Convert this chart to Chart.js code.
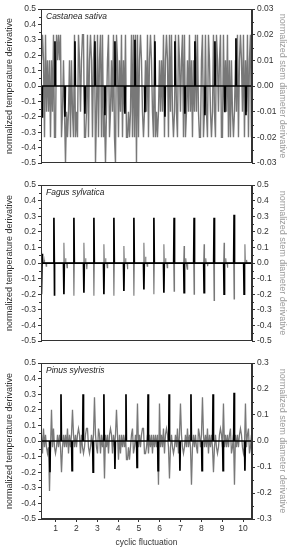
<!DOCTYPE html>
<html>
<head>
<meta charset="utf-8">
<script src="https://cdn.jsdelivr.net/npm/chart.js@4.4.2/dist/chart.umd.min.js"></script>
<style>
  html, body { margin: 0; padding: 0; background: #fff; }
  body { width: 292px; height: 550px; position: relative; overflow: hidden; }
  canvas { position: absolute; left: 0; }
</style>
</head>
<body>
<canvas id="panel-castanea" width="292" height="178" style="top:0px"></canvas>
<canvas id="panel-fagus" width="292" height="177" style="top:178px"></canvas>
<canvas id="panel-pinus" width="292" height="195" style="top:355px"></canvas>
<script>
// shared x axis (cyclic fluctuation)
const xMin = 0.3;
const xMax = 10.43;
const xTicks = [1, 2, 3, 4, 5, 6, 7, 8, 9, 10];
const tempTicks = [-0.5, -0.4, -0.3, -0.2, -0.1, 0, 0.1, 0.2, 0.3, 0.4, 0.5];
const castaneaStemTicks = [-0.03, -0.02, -0.01, 0, 0.01, 0.02, 0.03];
const fagusStemTicks = [-0.5, -0.4, -0.3, -0.2, -0.1, 0, 0.1, 0.2, 0.3, 0.4, 0.5];
const pinusStemTicks = [-0.3, -0.2, -0.1, 0, 0.1, 0.2, 0.3];

// temperature derivative pulses (black), x position + value
const castaneaTempX = [0.35, 0.97, 1.45, 1.93, 2.41, 2.89, 3.37, 3.85, 4.33, 4.81, 5.29, 5.77, 6.25, 6.73, 7.21, 7.69, 8.17, 8.65, 9.13, 9.66, 10.14];
const castaneaTempY = [-0.2, 0.29, -0.2, 0.29, -0.18, 0.29, -0.19, 0.29, -0.18, 0.30, -0.17, 0.29, -0.2, 0.29, -0.18, 0.29, -0.19, 0.29, -0.17, 0.31, -0.19];

const fagusTempX = [0.33, 0.37, 0.92, 0.95, 1.40, 1.88, 2.36, 2.84, 3.32, 3.80, 4.28, 4.76, 5.24, 5.72, 6.20, 6.69, 7.17, 7.65, 8.13, 8.61, 9.09, 9.57, 10.05];
const fagusTempY = [-0.2, 0.06, 0.29, -0.21, -0.2, 0.29, -0.19, 0.29, -0.2, 0.29, -0.18, 0.29, -0.17, 0.29, -0.19, 0.29, -0.19, 0.29, -0.19, 0.29, -0.2, 0.31, -0.2];

const pinusTempX = [0.73, 1.26, 1.79, 2.32, 2.80, 3.32, 3.85, 4.38, 4.91, 5.44, 5.92, 6.45, 6.97, 7.50, 8.03, 8.56, 9.04, 9.57, 10.09];
const pinusTempY = [-0.2, 0.3, -0.19, 0.3, -0.2, 0.3, -0.18, 0.3, -0.17, 0.3, -0.19, 0.3, -0.19, 0.3, -0.19, 0.3, -0.19, 0.31, -0.19];

// stem diameter derivative (grey)
// Fagus: pulses + small wiggles
const fagusStemX = [0.33, 0.45, 0.55, 1.40, 1.48, 1.55, 1.88, 2.36, 2.44, 2.50, 2.84, 3.32, 3.40, 3.48, 3.80, 4.28, 4.36, 4.45, 4.76, 5.24, 5.32, 5.40, 5.72, 6.20, 6.28, 6.36, 6.69, 7.17, 7.25, 7.32, 7.65, 8.13, 8.21, 8.30, 8.61, 9.09, 9.17, 9.25, 9.57, 10.09, 10.17];
const fagusStemY = [0.09, 0.02, -0.02, 0.13, 0.03, -0.03, -0.21, 0.13, 0.03, -0.04, -0.21, 0.12, 0.03, -0.03, -0.21, 0.11, 0.03, -0.04, -0.21, 0.13, 0.04, -0.02, -0.2, 0.12, 0.03, -0.03, -0.18, 0.11, 0.03, -0.04, -0.2, 0.12, 0.03, -0.02, -0.24, 0.13, 0.03, -0.03, -0.23, 0.12, 0.02];

// Castanea & Pinus: quantized samples, one char per sample (one per pixel column)
const stemStart = 0.324;
const stemStep = 0.048;
// 'd' = 0, each letter = one step of 0.01
const castaneaStemCodes =
  'efebfceceb' + 'ecfbbfefef' + 'bcecacbceb' + 'ecbfbcbfec' + 'effbbcfbef' +
  'ebefacfbef' + 'bfbcacefbc' + 'ecfbafebec' + 'fbecfbbcbc' + 'fbfbfafbef' +
  'ecbcecfbef' + 'ecbfbcbcec' + 'ecfbefebfc' + 'fcbcfcbfec' + 'efbfbcecfc' +
  'ebecfcfcbb' + 'efbcfcbfec' + 'bcfcbfecef' + 'bbfcecfbeb' + 'ecbcecfbef' +
  'ecfbecfbefb';
// 'i' = 0, each letter = one step of 0.024
const pinusStemCodes =
  'jgkhjhghah' + 'nhkhghjhjh' + 'dhjhjhkgjh' + 'jnjhjhjkjg' + 'jhghjkkhgh' +
  'jhjpjhgkjg' + 'jhjcjhjgjk' + 'jgjhjnjfjg' + 'jhjhjffhfh' + 'jkghjhohjh' +
  'jkkgghjgjh' + 'jgjhjhjboh' + 'jhkgjkjhch' + 'jhghjhkgjo' + 'jhghjhkhjh' +
  'bhjhjhgkjh' + 'jpjhjhkgjh' + 'jhdhjhghjk' + 'jhohjhjhjk' + 'ghjbjhjhjk' +
  'jhghohjkghj';

const FONT = 'Liberation Sans, Arial, sans-serif';
const TEXT = '#333';

function pulsePoints(xs, ys) {
  const pts = [{ x: xMin, y: 0 }];
  xs.forEach((x, i) => {
    pts.push({ x: x - 0.02, y: 0 }, { x: x, y: ys[i] }, { x: x + 0.02, y: 0 });
  });
  pts.push({ x: xMax, y: 0 });
  return pts;
}

function codePoints(codes, zeroChar, unit) {
  const zero = zeroChar.charCodeAt(0);
  return Array.from(codes, (c, i) => ({
    x: stemStart + i * stemStep,
    y: (c.charCodeAt(0) - zero) * unit
  }));
}

// frame round the plot, minor ticks on y axes, species name
const framePlugin = {
  id: 'frame',
  afterDraw(chart, args, opts) {
    const { ctx, chartArea: a } = chart;
    ctx.save();
    ctx.strokeStyle = '#333';
    ctx.lineWidth = 1;
    ctx.strokeRect(Math.round(a.left) + 0.5, Math.round(a.top) + 0.5, Math.round(a.width) - 1, Math.round(a.height) - 1);

    ctx.beginPath();
    Object.values(chart.scales).forEach(s => {
      if (s.axis !== 'y') return;
      const t = s.ticks;
      const left = s.position === 'left';
      const x0 = left ? Math.round(a.left) : Math.round(a.right);
      for (let i = 0; i < t.length - 1; i++) {
        const y = Math.round(s.getPixelForValue((t[i].value + t[i + 1].value) / 2)) + 0.5;
        ctx.moveTo(x0, y);
        ctx.lineTo(x0 + (left ? -2 : 2), y);
      }
    });
    ctx.stroke();

    ctx.fillStyle = '#222';
    ctx.font = 'italic 8.5px ' + FONT;
    ctx.textBaseline = 'middle';
    ctx.fillText(opts.name, a.left + 5, a.top + 8);
    ctx.restore();
  }
};

function makePanel(id, cfg) {
  const yAxis = (ticks, decimals, position, title, titleColor, width) => ({
    type: 'linear',
    position,
    min: ticks[0],
    max: ticks[ticks.length - 1],
    afterBuildTicks: s => { s.ticks = ticks.map(v => ({ value: v })); },
    afterFit: s => { s.width = width; },
    ticks: {
      color: TEXT,
      font: { family: FONT, size: 8.5 },
      padding: 2,
      callback: v => v.toFixed(decimals)
    },
    grid: { drawOnChartArea: false, drawTicks: true, tickLength: 3, tickColor: '#333' },
    border: { display: true, color: '#333' },
    title: {
      display: true,
      text: title,
      color: titleColor,
      font: { family: FONT, size: 9 },
      padding: { top: 4, bottom: 0 }
    }
  });

  const xAxis = {
    type: 'linear',
    min: xMin,
    max: xMax,
    display: cfg.showX,
    afterBuildTicks: s => { s.ticks = xTicks.map(v => ({ value: v })); },
    afterFit: s => { s.height = cfg.showX ? 29 : 0; },
    ticks: { color: TEXT, font: { family: FONT, size: 8.5 }, padding: 2 },
    grid: { drawOnChartArea: false, drawTicks: true, tickLength: 3, tickColor: '#333' },
    border: { display: true, color: '#333' },
    title: {
      display: true,
      text: 'cyclic fluctuation',
      color: TEXT,
      font: { family: FONT, size: 8.5 },
      padding: { top: 0, bottom: 0 }
    }
  };

  return new Chart(document.getElementById(id), {
    type: 'line',
    data: {
      datasets: [
        {
          label: 'temperature',
          data: cfg.temp,
          yAxisID: 'yTemp',
          borderColor: '#000',
          borderWidth: 1.7,
          pointRadius: 0,
          tension: 0,
          order: 0
        },
        {
          label: 'stem diameter',
          data: cfg.stem,
          yAxisID: 'yStem',
          borderColor: 'rgb(120,120,120)',
          borderWidth: cfg.stemWidth,
          pointRadius: 0,
          tension: 0,
          order: 1
        }
      ]
    },
    options: {
      responsive: false,
      animation: false,
      events: [],
      devicePixelRatio: 1,
      layout: { padding: cfg.padding },
      plugins: {
        legend: { display: false },
        tooltip: { enabled: false },
        frame: { name: cfg.name }
      },
      scales: {
        x: xAxis,
        yTemp: yAxis(tempTicks, 1, 'left', 'normalized temperature derivative', TEXT, 41),
        yStem: yAxis(cfg.stemTicks, cfg.stemDecimals, 'right', 'normalized stem diameter derivative', '#999', 40)
      }
    },
    plugins: [framePlugin]
  });
}

makePanel('panel-castanea', {
  name: 'Castanea sativa',
  temp: pulsePoints(castaneaTempX, castaneaTempY),
  stem: codePoints(castaneaStemCodes, 'd', 0.01),
  stemTicks: castaneaStemTicks,
  stemDecimals: 2,
  stemWidth: 1.4,
  showX: false,
  padding: { top: 9, bottom: 15, left: 0, right: 0 }
});

makePanel('panel-fagus', {
  name: 'Fagus sylvatica',
  temp: pulsePoints(fagusTempX, fagusTempY),
  stem: pulsePoints(fagusStemX, fagusStemY),
  stemTicks: fagusStemTicks,
  stemDecimals: 1,
  stemWidth: 1.1,
  showX: false,
  padding: { top: 7, bottom: 14, left: 0, right: 0 }
});

makePanel('panel-pinus', {
  name: 'Pinus sylvestris',
  temp: pulsePoints(pinusTempX, pinusTempY),
  stem: codePoints(pinusStemCodes, 'i', 0.024),
  stemTicks: pinusStemTicks,
  stemDecimals: 1,
  stemWidth: 1.3,
  showX: true,
  padding: { top: 8, bottom: 2, left: 0, right: 0 }
});
</script>
</body>
</html>
